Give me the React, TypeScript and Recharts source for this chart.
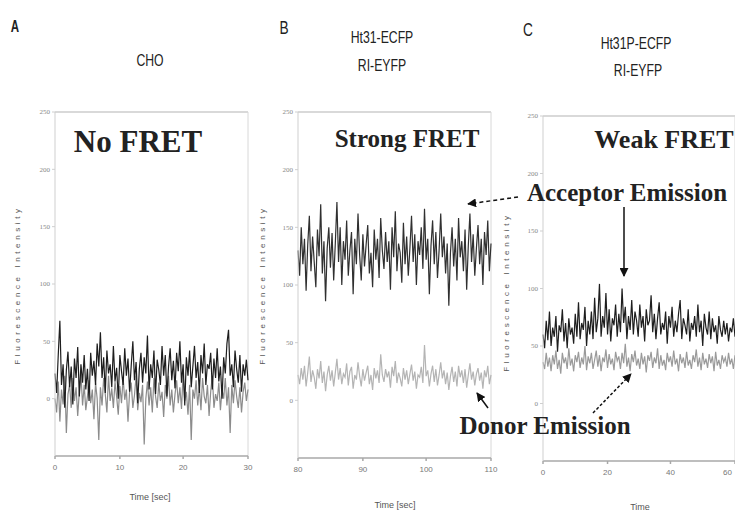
import { LineChart, Line, XAxis, YAxis, ReferenceLine } from "recharts";

// y ticks shared by all three panels
const Y_TICKS = [0, 50, 100, 150, 200, 250];

const A_X_LABELS = ["0", "10", "20", "30"];
const B_X_LABELS = ["80", "90", "100", "110"];
const C_X_LABELS = ["0", "20", "40", "60"];

// Panel A - CHO, no FRET (two overlapping channels)
const A_DARK = [22, 5, 38, 68, 12, 30, -8, 25, 41, 10, 28, -5, 35, 18, 45, 2, 30, 14, 38, 8, 26, -2, 40, 20, 33, 12, 48, 28, 58, 18, 36, 5, 42, 22, 30, 10, 46, 15, 27, 0, 38, 24, 12, 44, 20, 35, 6, 29, 50, 16, 32, -4, 26, 40, 14, 36, 22, 55, 8, 30, 18, 42, 4, 34, 25, 12, 46, 20, 38, 2, 28, 44, 16, 33, 9, 40, 24, 50, 14, 30, -6, 36, 20, 42, 10, 28, 46, 18, 32, 5, 38, 22, 48, 12, 30, 26, 40, 8, 35, 18, 44, 15, 28, 0, 36, 22, 48, 60, 20, 30, 10, 42, 26, 14, 38, 6, 30, 20, 34, 16];
const A_GRAY = [0, -12, 15, -20, 8, -5, 20, -30, 4, 12, -8, 18, -2, 10, -15, 6, 22, -6, 12, -10, 2, 16, -4, 8, -18, 14, 0, -36, 10, -6, 18, 4, -12, 20, -2, 9, -8, 15, 2, -14, 11, -4, 18, -1, 8, -20, 6, 14, -8, 3, 20, -10, 5, -3, 12, -40, 0, 15, -6, 10, -12, 18, 2, -8, 14, -2, 6, -16, 12, 0, 20, -6, 8, -12, 4, 16, -4, 10, -9, 22, -2, 6, -14, 12, -36, 8, 0, 16, -6, 10, -10, 18, 2, -4, 12, -15, 6, 20, -8, 4, -2, 14, -10, 8, 0, 18, -6, 10, -30, 12, -4, 16, 2, -8, 10, -12, 6, 14, -2, 8];

// Panel B - Ht31, strong FRET
const B_ACCEPTOR = [130, 108, 150, 118, 140, 95, 135, 160, 112, 142, 120, 98, 148, 125, 170, 110, 138, 86, 132, 150, 115, 145, 104, 136, 172, 120, 150, 100, 138, 122, 156, 108, 130, 146, 92, 140, 118, 162, 126, 104, 144, 116, 135, 152, 110, 128, 98, 148, 122, 140, 106, 158, 130, 114, 146, 120, 138, 96, 150, 124, 164, 112, 136, 128, 102, 154, 118, 142, 108, 132, 160, 120, 144, 100, 138, 126, 150, 114, 166, 122, 140, 92, 134, 156, 118, 146, 106, 130, 162, 124, 142, 110, 136, 82, 128, 150, 116, 140, 104, 158, 124, 138, 112, 148, 96, 134, 162, 120, 144, 108, 132, 152, 118, 140, 100, 146, 126, 156, 112, 136];
const B_DONOR = [22, 14, 28, 18, 30, 12, 24, 38, 16, 26, 20, 10, 27, 19, 34, 15, 25, 8, 22, 30, 17, 26, 12, 24, 36, 18, 28, 14, 23, 20, 32, 13, 25, 29, 10, 22, 18, 33, 21, 12, 27, 17, 24, 30, 14, 22, 9, 28, 19, 26, 15, 40, 22, 16, 27, 20, 25, 11, 29, 21, 34, 15, 24, 19, 12, 28, 18, 26, 14, 23, 31, 17, 25, 10, 22, 20, 29, 15, 48, 21, 26, 12, 23, 30, 16, 27, 13, 22, 33, 19, 26, 14, 24, 9, 21, 29, 16, 25, 12, 30, 20, 26, 15, 27, 11, 22, 32, 18, 25, 13, 23, 28, 17, 24, 10, 26, 20, 30, 14, 22];

// Panel C - Ht31P, weak FRET
const C_ACCEPTOR = [60, 48, 72, 55, 80, 50, 66, 58, 76, 45, 68, 62, 82, 54, 70, 48, 74, 60, 66, 52, 78, 58, 88, 56, 70, 64, 84, 50, 72, 60, 80, 56, 92, 62, 74, 104, 58, 76, 66, 96, 60, 82, 54, 74, 68, 86, 58, 78, 62, 100, 70, 84, 56, 76, 64, 90, 60, 80, 72, 58, 86, 66, 76, 54, 82, 68, 72, 94, 62, 78, 56, 74, 88, 60, 70, 64, 80, 52, 76, 66, 84, 58, 72, 62, 78, 90, 56, 74, 68, 60, 82, 54, 70, 64, 76, 58, 86, 62, 72, 50, 78, 66, 60, 80, 56, 74, 62, 68, 52, 76, 64, 58, 72, 60, 70, 54, 66, 62, 74, 58];
const C_DONOR = [36, 30, 44, 32, 40, 28, 42, 34, 46, 30, 38, 26, 44, 35, 40, 30, 48, 33, 39, 28, 42, 36, 45, 31, 40, 34, 50, 29, 41, 35, 44, 30, 38, 46, 32, 42, 28, 40, 36, 47, 31, 43, 34, 39, 29, 45, 37, 41, 30, 44, 35, 52, 32, 40, 28, 43, 36, 46, 33, 39, 30, 44, 34, 41, 27, 42, 37, 45, 31, 40, 35, 48, 30, 42, 33, 38, 29, 44, 36, 41, 32, 46, 34, 39, 28, 43, 35, 40, 31, 45, 33, 38, 30, 42, 36, 47, 32, 40, 29, 44, 34, 39, 31, 43, 35, 41, 28, 45, 33, 38, 30, 42, 36, 40, 32, 44, 34, 39, 30, 42];

const SANS = '"Liberation Sans", Arial, sans-serif';
const SERIF = '"Liberation Serif", "DejaVu Serif", serif';
const AXIS = "#a8a8a8";

type Series = { key: string; values: number[]; color: string };

const Panel = ({ left, width, margin, series, xLabels, endLast }: { left: number; width: number; margin: any; series: Series[]; xLabels: string[]; endLast?: boolean }) => {
  const n = Math.max(...series.map(s => s.values.length));
  const data = Array.from({ length: n }, (_, i) => {
    const row: Record<string, number> = { i };
    series.forEach(s => { row[s.key] = s.values[i]; });
    return row;
  });
  const xTicks = xLabels.map((_, k) => Math.round((k * (n - 1)) / (xLabels.length - 1)));
  const renderTick = (p: any) => {
    const k = xTicks.indexOf(p.payload.value);
    const last = endLast && k === xTicks.length - 1;
    return (
      <text x={last ? p.x - 3 : p.x} y={p.y + 9} textAnchor={last ? "end" : "middle"} fontSize={8} fill="#777" fontFamily={SANS}>{xLabels[k]}</text>
    );
  };
  return (
    <div style={{ position: "absolute", left, top: 0 }}>
      <LineChart width={width} height={514} data={data} margin={margin}>
        <XAxis dataKey="i" type="number" domain={[0, n - 1]} ticks={xTicks} tick={renderTick}
          stroke={AXIS} strokeWidth={1.5} tickSize={3} height={20} />
        <YAxis type="number" domain={[-50, 250]} ticks={Y_TICKS} width={30} stroke="#cfcfcf"
          tick={{ fontSize: 7, fill: "#888" }} tickSize={3} />
        <ReferenceLine y={250} stroke="#cdcdcd" strokeWidth={1.5} />
        <ReferenceLine x={n - 1} stroke="#d8d8d8" />
        {series.map(s => (
          <Line key={s.key} dataKey={s.key} stroke={s.color} strokeWidth={1.2} dot={false} isAnimationActive={false} />
        ))}
      </LineChart>
    </div>
  );
};

const T = ({ x, y, children, style, tf = "" }: { x: number; y: number; children: any; style?: any; tf?: string }) => (
  <div style={{ position: "absolute", left: x, top: y, transform: `translate(-50%, -50%) ${tf}`, whiteSpace: "nowrap", lineHeight: 1, ...style }}>
    {children}
  </div>
);

const head = { fontFamily: SANS, fontSize: 17, color: "#222" };
const narrow = "scale(0.72, 1)";
const big = { fontFamily: SERIF, fontWeight: 700, color: "#222" };
const ytitle = { fontFamily: SANS, fontSize: 8, letterSpacing: 3.6, color: "#555" };
const xtitle = { fontFamily: SANS, fontSize: 9, color: "#555" };

export default function App() {
  return (
    <div style={{ position: "absolute", left: 0, top: 0, width: 735, height: 514, overflow: "hidden", background: "#fff" }}>
      <Panel left={0} width={260} margin={{ top: 112, right: 12, bottom: 38, left: 25 }} xLabels={A_X_LABELS}
        series={[{ key: "g", values: A_GRAY, color: "#8c8c8c" }, { key: "d", values: A_DARK, color: "#1e1e1e" }]} />
      <Panel left={260} width={245} margin={{ top: 112, right: 14, bottom: 36, left: 8 }} xLabels={B_X_LABELS}
        series={[{ key: "don", values: B_DONOR, color: "#b4b4b4" }, { key: "acc", values: B_ACCEPTOR, color: "#303030" }]} />
      <Panel left={505} width={245} margin={{ top: 116, right: 15, bottom: 33, left: 8 }} xLabels={C_X_LABELS} endLast
        series={[{ key: "don", values: C_DONOR, color: "#9a9a9a" }, { key: "acc", values: C_ACCEPTOR, color: "#1e1e1e" }]} />

      <T x={15} y={27} tf={narrow} style={{ ...head, fontSize: 16, fontWeight: 700 }}>A</T>
      <T x={150} y={60} tf={narrow} style={head}>CHO</T>
      <T x={284} y={27} tf={narrow} style={{ ...head, fontSize: 19 }}>B</T>
      <T x={382} y={37} tf={narrow} style={head}>Ht31-ECFP</T>
      <T x={382} y={65} tf={narrow} style={head}>RI-EYFP</T>
      <T x={528} y={29} tf={narrow} style={{ ...head, fontSize: 19 }}>C</T>
      <T x={636} y={43} tf={narrow} style={head}>Ht31P-ECFP</T>
      <T x={638} y={70} tf={narrow} style={head}>RI-EYFP</T>

      <T x={138} y={141} style={{ ...big, fontSize: 31 }}>No FRET</T>
      <T x={407} y={138} style={{ ...big, fontSize: 25 }}>Strong FRET</T>
      <T x={664} y={140} style={{ ...big, fontSize: 26 }}>Weak FRET</T>
      <T x={627} y={192} style={{ ...big, fontSize: 25 }}>Acceptor Emission</T>
      <T x={545} y={425} style={{ ...big, fontSize: 25 }}>Donor Emission</T>

      <T x={18} y={285} tf="rotate(-90deg)" style={ytitle}>Fluorescence Intensity</T>
      <T x={263} y={285} tf="rotate(-90deg)" style={ytitle}>Fluorescence Intensity</T>
      <T x={507} y={292} tf="rotate(-90deg)" style={ytitle}>Fluorescence Intensity</T>
      <T x={150} y={497} style={xtitle}>Time [sec]</T>
      <T x={395} y={505} style={xtitle}>Time [sec]</T>
      <T x={640} y={507} style={xtitle}>Time</T>

      <svg width={735} height={514} style={{ position: "absolute", left: 0, top: 0, pointerEvents: "none" }}>
        <defs>
          <marker id="ah" viewBox="0 0 10 10" refX="9" refY="5" markerWidth="6" markerHeight="6" orient="auto">
            <path d="M0,0 L10,5 L0,10 z" fill="#111" />
          </marker>
        </defs>
        <path d="M518,197 L468,204" stroke="#111" strokeWidth={1.5} strokeDasharray="4 3" markerEnd="url(#ah)" />
        <path d="M624,207 L624,276" stroke="#111" strokeWidth={1.5} markerEnd="url(#ah)" />
        <path d="M488,408 L477,393" stroke="#111" strokeWidth={1.5} markerEnd="url(#ah)" />
        <path d="M593,413 L631,374" stroke="#111" strokeWidth={1.5} strokeDasharray="3 2" markerEnd="url(#ah)" />
      </svg>
    </div>
  );
}
